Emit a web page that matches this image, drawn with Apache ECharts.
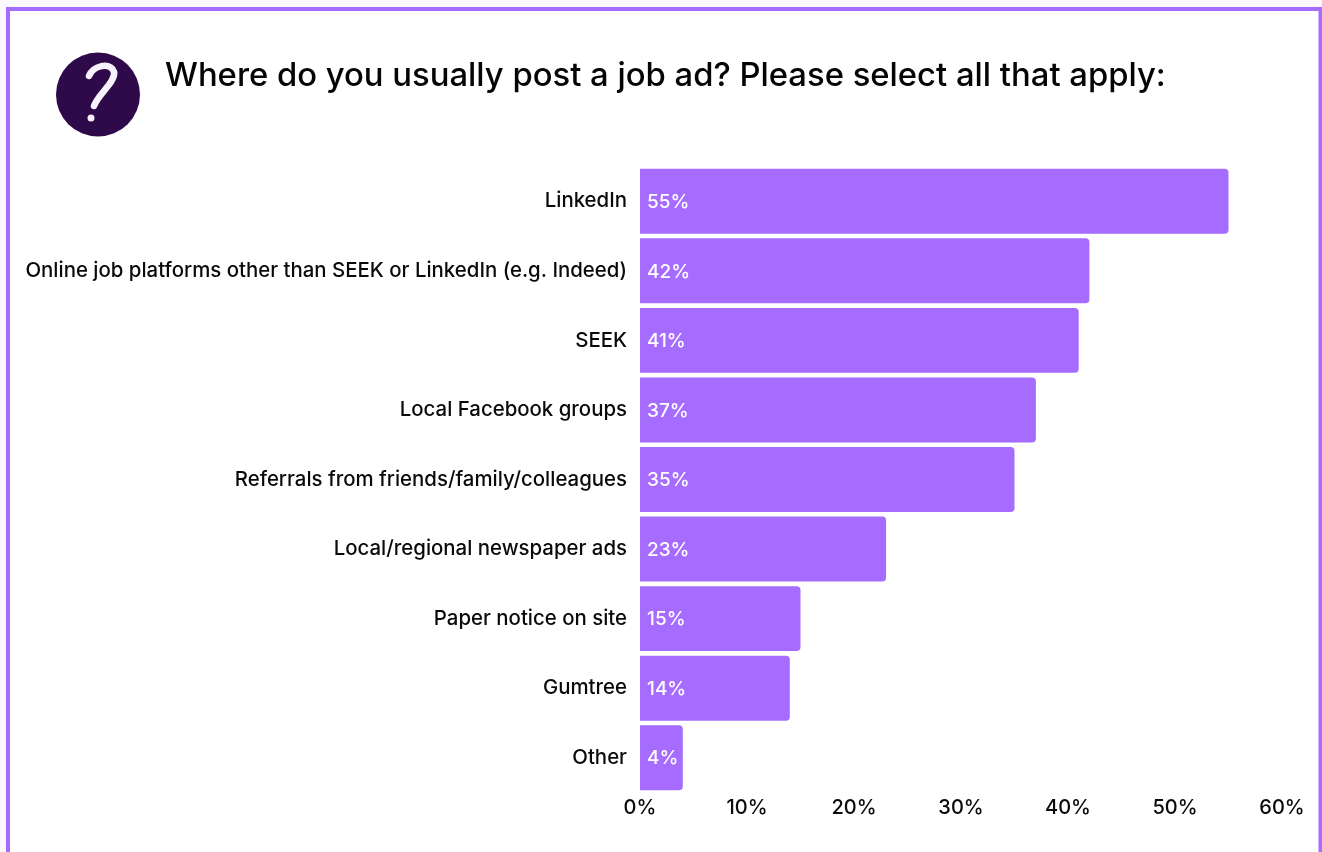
<!DOCTYPE html>
<html>
<head>
<meta charset="utf-8">
<style>
html, body { margin: 0; padding: 0; background: #fbf8ff; }
#chart { width: 1322px; height: 852px; }
</style>
<script src="https://cdn.jsdelivr.net/npm/echarts@6/dist/echarts.min.js"></script>
</head>
<body>
<div id="chart"></div>
<script>
const titleText = 'Where do you usually post a job ad? Please select all that apply:';
const categories = [
  'LinkedIn',
  'Online job platforms other than SEEK or LinkedIn (e.g. Indeed)',
  'SEEK',
  'Local Facebook groups',
  'Referrals from friends/family/colleagues',
  'Local/regional newspaper ads',
  'Paper notice on site',
  'Gumtree',
  'Other'
];
const shares = [55, 42, 41, 37, 35, 23, 15, 14, 4];
const tickStep = 10;
const tickMax = 60;

const violet = '#a66bff';
const plum = '#2e0a4a';
const chalk = '#f7f2fb';
const font = 'Inter';

const chart = echarts.init(document.getElementById('chart'), null, { renderer: 'canvas' });
chart.setOption({
  animation: false,
  backgroundColor: 'transparent',
  textStyle: { fontFamily: font },
  grid: { left: 640, right: 40, top: 166.5, bottom: 59.5, containLabel: false },
  xAxis: {
    type: 'value',
    min: 0,
    max: tickMax,
    interval: tickStep,
    axisLine: { show: false },
    axisTick: { show: false },
    splitLine: { show: false },
    axisLabel: {
      formatter: '{value}%',
      color: '#0a0a0a',
      fontFamily: font,
      fontSize: 20,
      fontWeight: 500,
      margin: 5
    }
  },
  yAxis: {
    type: 'category',
    inverse: true,
    data: categories,
    axisLine: { show: false },
    axisTick: { show: false },
    splitLine: { show: false },
    axisLabel: {
      color: '#0a0a0a',
      fontFamily: font,
      fontSize: 20.4,
      fontWeight: 500,
      margin: 13,
      padding: [4, 0, 0, 0]
    }
  },
  series: [{
    type: 'bar',
    data: shares,
    barCategoryGap: '6.6%',
    itemStyle: { color: violet, borderRadius: [0, 4, 4, 0] },
    label: {
      show: true,
      position: 'insideLeft',
      distance: 7,
      offset: [0, 1],
      formatter: '{c}%',
      color: '#ffffff',
      fontFamily: font,
      fontSize: 19,
      fontWeight: 500
    }
  }],
  graphic: [
    // page frame
    {
      type: 'rect', z: 0,
      shape: { x: 8, y: 9, width: 1312.5, height: 860 },
      style: { fill: '#ffffff', stroke: violet, lineWidth: 4 }
    },
    // question badge
    {
      type: 'circle', z: 1,
      shape: { cx: 98, cy: 94.5, r: 42 },
      style: { fill: plum }
    },
    {
      type: 'bezierCurve', z: 2,
      shape: { x1: 89, y1: 76, cpx1: 93, cpy1: 66, cpx2: 110, cpy2: 61, x2: 114, y2: 72 },
      style: { fill: 'none', stroke: chalk, lineWidth: 6.5, lineCap: 'round' }
    },
    {
      type: 'bezierCurve', z: 2,
      shape: { x1: 114, y1: 72, cpx1: 116, cpy1: 82, cpx2: 98, cpy2: 94, x2: 94, y2: 106 },
      style: { fill: 'none', stroke: chalk, lineWidth: 6.5, lineCap: 'round' }
    },
    {
      type: 'circle', z: 2,
      shape: { cx: 91, cy: 118, r: 3.5 },
      style: { fill: chalk }
    },
    {
      type: 'text', z: 3,
      left: 165, top: 60,
      style: { text: titleText, fontFamily: font, fontSize: 32.8, fontWeight: 500, fill: '#050505' }
    }
  ]
});
</script>
</body>
</html>
